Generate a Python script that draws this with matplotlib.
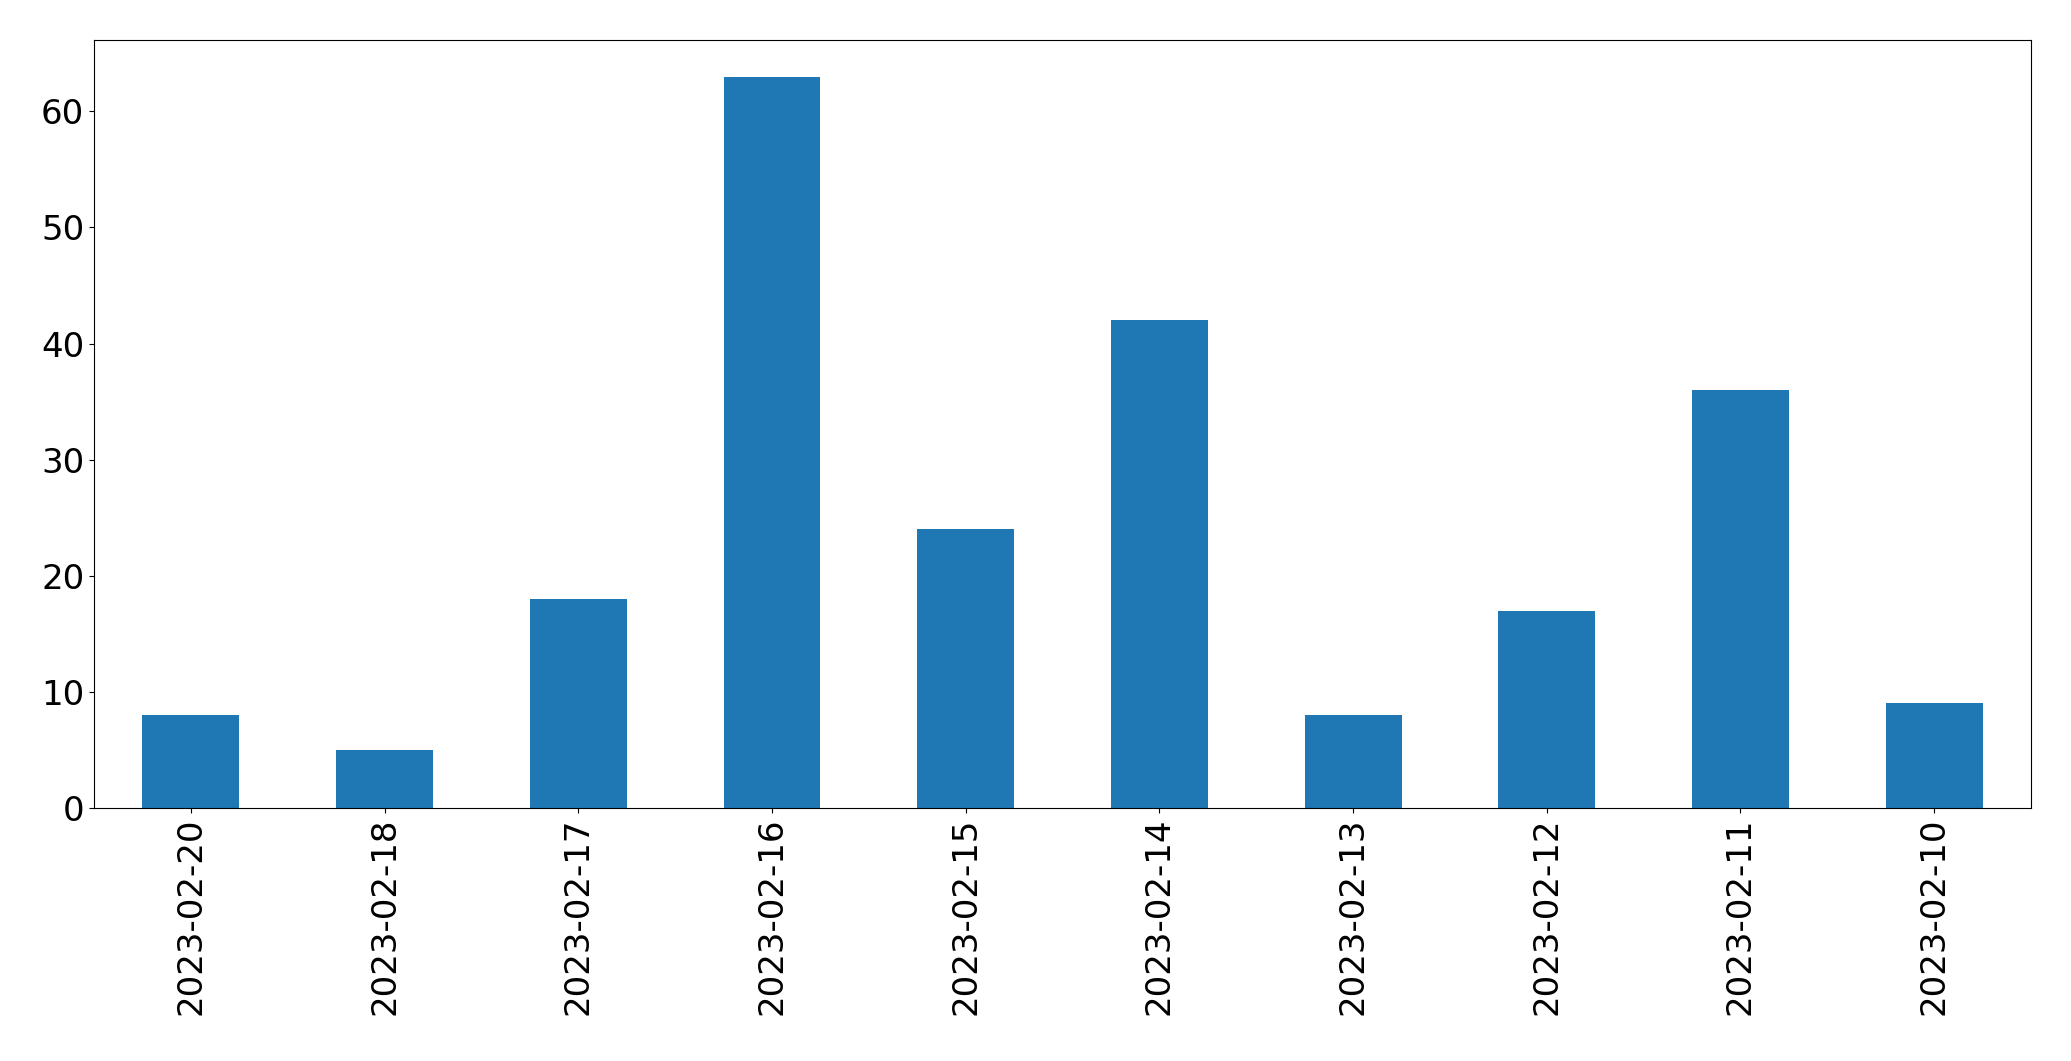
import matplotlib
matplotlib.use("Agg")
import matplotlib.pyplot as plt

dates = ["2023-02-20", "2023-02-18", "2023-02-17", "2023-02-16", "2023-02-15",
         "2023-02-14", "2023-02-13", "2023-02-12", "2023-02-11", "2023-02-10"]
counts = [8, 5, 18, 63, 24, 42, 8, 17, 36, 9]

fig = plt.figure(figsize=(20.71, 10.61), dpi=100)
ax = fig.add_axes([0.0454, 0.2385, 0.9353, 0.7238])
x = list(range(len(dates)))
ax.bar(x, counts, width=0.5, color="#1f77b4")
ax.set_xlim(-0.5, len(dates) - 0.5)
ax.set_xticks(x)
ax.set_xticklabels(dates, rotation=90)
ax.tick_params(axis="both", labelsize=24.5)
fig.savefig("out.png", dpi=100)
